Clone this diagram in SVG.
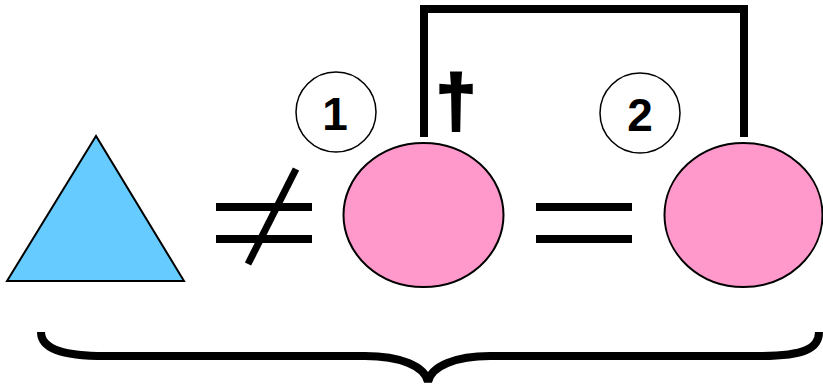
<svg xmlns="http://www.w3.org/2000/svg" width="823" height="385" viewBox="0 0 823 385">
<style>
.bar{stroke:#000;stroke-width:8;fill:none}
.num{font-family:"Liberation Sans",Arial,sans-serif;font-weight:bold;font-size:46px;text-anchor:middle;fill:#000}
.badge{fill:#fff;stroke:#000;stroke-width:1.5}
.pink{fill:#FF99CC;stroke:#000;stroke-width:2}
</style>
<rect width="823" height="385" fill="#fff"/>
<g id="triangle">
<polygon points="96,136 7,281 184,281" fill="#66CCFF" stroke="#000" stroke-width="2"/>
</g>
<g id="not-equal">
<line class="bar" x1="216" y1="207" x2="312" y2="207"/>
<line class="bar" x1="216" y1="239" x2="312" y2="239"/>
<line x1="296" y1="169" x2="248" y2="264" stroke="#000" stroke-width="7"/>
</g>
<g id="circle1">
<ellipse class="pink" cx="423.5" cy="215" rx="80" ry="72"/>
</g>
<g id="equal">
<line class="bar" x1="536" y1="207" x2="632" y2="207"/>
<line class="bar" x1="536" y1="239" x2="632" y2="239"/>
</g>
<g id="circle2">
<ellipse class="pink" cx="743.5" cy="215" rx="79" ry="72"/>
</g>
<g id="label1">
<circle class="badge" cx="336" cy="112" r="40"/>
<text class="num" x="335" y="130">1</text>
</g>
<g id="label2">
<circle class="badge" cx="640" cy="113" r="40"/>
<text class="num" x="640" y="131">2</text>
</g>
<g id="dagger">
<text x="456" y="126" font-family="'Liberation Sans',Arial,sans-serif" font-weight="bold" font-size="72" text-anchor="middle" stroke="#000" stroke-width="3" stroke-linejoin="miter">†</text>
</g>
<g id="connectors">
<polyline class="bar" points="424,137 424,9 744,9 744,137"/>
<path class="bar" d="M41,332 C41,348 60,356 105,356 H365 C400,356 425,366 428,382 C431,366 456,356 490,356 H760 C805,356 819,348 819,332"/>
</g>
</svg>
